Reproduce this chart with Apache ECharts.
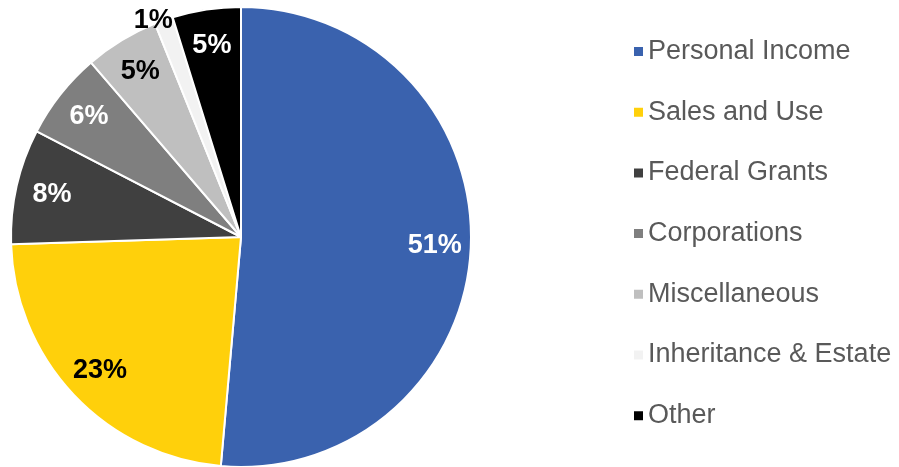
<!DOCTYPE html>
<html>
<head>
<meta charset="utf-8">
<script src="https://cdn.jsdelivr.net/npm/echarts@6/dist/echarts.min.js"></script>
<style>
  html, body { margin: 0; padding: 0; background: #fff; }
  #chart { width: 899px; height: 467px; }
</style>
</head>
<body>
<div id="chart"></div>
<script>
const categories = ["Personal Income", "Sales and Use", "Federal Grants", "Corporations", "Miscellaneous", "Inheritance & Estate", "Other"];
const shares = [51.4, 23.1, 8.1, 6.1, 5.2, 1.3, 4.8];
const sliceColors = ["#3A62AE", "#FFD00B", "#404040", "#7F7F7F", "#BFBFBF", "#F2F2F2", "#000000"];
const labelColors = ["#FFFFFF", "#000000", "#FFFFFF", "#FFFFFF", "#000000", "#000000", "#FFFFFF"];

const chart = echarts.init(document.getElementById("chart"));
const font = "Liberation Sans, Arial, sans-serif";
const center = [241, 237];
const R = 230;

const mainData = categories.map((name, i) => ({
  name, value: shares[i], itemStyle: {color: sliceColors[i]}
}));

// transparent copy only used to place the percent labels near the rim
const labelData = categories.map((name, i) => {
  const item = {
    name, value: shares[i],
    label: {color: labelColors[i]}
  };
  if (name === "Inheritance & Estate") {
    item.label = {color: labelColors[i], position: "outside", distanceToLabelLine: -9};
    item.labelLine = {show: false, length: 0, length2: 0};
  }
  return item;
});

chart.setOption({
  animation: false,
  backgroundColor: "#fff",
  legend: {
    orient: "vertical",
    left: 627,
    top: 33,
    itemWidth: 11,
    itemHeight: 11,
    itemGap: 33.7,
    icon: "rect",
    data: categories,
    textStyle: {color: "#595959", fontSize: 27, fontFamily: font, lineHeight: 26, padding: [0, 0, 0, -1]}
  },
  series: [
    {
      name: "Revenue",
      type: "pie",
      center: center,
      radius: R,
      startAngle: 90,
      clockwise: true,
      label: {show: false},
      labelLine: {show: false},
      itemStyle: {borderColor: "#fff", borderWidth: 2},
      emphasis: {disabled: true},
      data: mainData
    },
    {
      name: "Labels",
      type: "pie",
      center: center,
      radius: [R * 0.66, R],
      startAngle: 90,
      clockwise: true,
      silent: true,
      itemStyle: {color: "transparent"},
      label: {
        show: true,
        position: "inside",
        fontSize: 27,
        fontWeight: "bold",
        fontFamily: font,
        formatter: (p) => Math.round(p.value) + "%"
      },
      labelLine: {show: false},
      emphasis: {disabled: true},
      data: labelData
    }
  ]
});
</script>
</body>
</html>
